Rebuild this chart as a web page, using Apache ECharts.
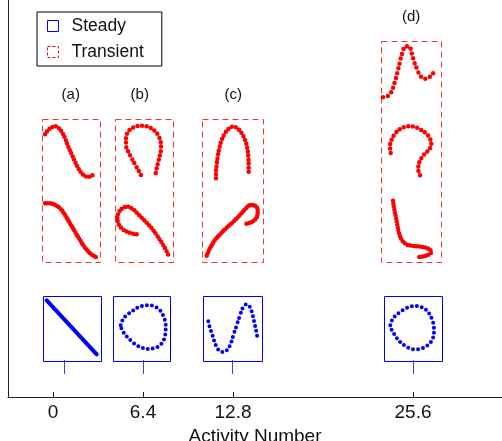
<!DOCTYPE html>
<html lang="en">
<head>
<meta charset="UTF-8">
<title>Steady vs Transient</title>
<style>
    html, body { margin: 0; padding: 0; background: #fff; }
    #echart { width: 502px; height: 441px; }
</style>
</head>
<body>

<div id="echart"></div>

<script src="https://cdn.jsdelivr.net/npm/echarts@6.0.0/dist/echarts.min.js"></script>
<script>
    const FONT = "'Liberation Sans', Arial, Helvetica, sans-serif";

    // x axis ticks (activity number)
    const activityTicks = [0, 6.4, 12.8, 25.6];
    const panelNames = ["(a)", "(b)", "(c)", "(d)"];
    const stemX = [0.78, 6.4, 12.73, 25.6];

    // curve shapes: [right, down] from the box's top-left corner
    const steadyA = [[4, 4.8], [54, 58.8]];
    const steadyB = [[7.4, 29.8], [10, 23.2], [14, 19.2], [19.4, 15.2], [25, 11.8], [30, 10.2], [35, 9.8], [40, 10.5], [45, 13.2], [48.4, 17.2], [50.7, 22.5], [52.4, 28.2], [52.4, 34.8], [51.4, 41.5], [49.4, 46.5], [45.7, 50.5], [41, 52.5], [35, 53.5], [29.4, 52.5], [23.4, 49.8], [18.4, 45.8], [14, 41.5], [10, 36.5], [8, 32.5], [7.4, 29.8]];
    const steadyC = [[5.6, 25.8], [7.3, 32.5], [9.3, 38.2], [11.3, 44.8], [14, 51.5], [17.3, 55.8], [21.3, 56.5], [25, 53.8], [28, 48.2], [30.6, 39.8], [34, 29.8], [37.3, 19.8], [40.6, 11.5], [44, 8.8], [47.3, 11.5], [50, 19.8], [52.3, 29.8], [54, 38.2], [55, 43.2]];
    const steadyD = [[6.6, 29.8], [8.3, 24.8], [11.6, 20.5], [16.6, 16.5], [21.6, 13.2], [26.6, 11.2], [31.6, 10.5], [36.6, 11.2], [41.6, 13.8], [45.6, 18.2], [48.3, 23.8], [50, 29.8], [50.3, 36.5], [49.3, 42.5], [46.6, 47.2], [42.3, 50.8], [37.3, 53.2], [31.6, 53.8], [26.6, 53.2], [21.6, 50.5], [16.6, 46.5], [12.3, 41.5], [9, 35.8], [7, 32.5], [6.6, 29.8]];

    const transA1 = [[3.3, 15.3], [6.6, 11], [10, 8.3], [13.3, 7.3], [16.6, 8.7], [20, 12.7], [23.3, 19.3], [26.6, 27.7], [30, 35.3], [33.3, 42.7], [36.6, 49.3], [40, 54.3], [43.3, 57], [46.6, 58], [50, 56.7], [52.6, 55.3]];
    const transA2 = [[3.3, 84.3], [8.3, 84.3], [13.3, 86], [18.3, 89.3], [23.3, 96], [28.3, 104.3], [33.3, 112.7], [38.3, 121], [43.3, 128.7], [48.3, 134.3], [53.3, 137.7], [55.6, 138.7]];
    const transB1 = [[26, 56], [23.3, 51], [20, 45.3], [16.7, 39.3], [13.3, 32.7], [11, 26], [11, 19.3], [12.3, 14.3], [15.7, 10], [20, 7.7], [25, 6.7], [30, 7], [35, 8.7], [40, 12], [43.3, 16.7], [45.7, 22.7], [46, 29.3], [45, 36], [43.3, 42.7], [41.7, 49.3], [40.3, 56.7]];
    const transB2 = [[21.7, 115.3], [16.7, 114.3], [11.7, 112.7], [6.7, 109.3], [3.3, 104.3], [2.3, 98.7], [4.3, 92.7], [8.3, 88.7], [12.3, 87.7], [16.7, 89.3], [21.7, 93.7], [26.7, 98.7], [31.7, 103.7], [36.7, 109.3], [41.7, 116], [46.7, 123.7], [51, 131], [54.3, 138.7]];
    const transC1 = [[14.3, 59.3], [14.3, 52.7], [15, 46], [16, 37.7], [17.6, 29.3], [20, 21], [23.3, 14.3], [27.6, 9.3], [31.6, 7.7], [35.6, 9.3], [40, 14.3], [43.3, 21], [45.6, 29.3], [46.6, 37.7], [47, 46], [47, 55.3]];
    const transC2 = [[5, 136.7], [8.3, 129.3], [13.3, 121], [18.3, 115.3], [25, 108.7], [31.6, 102.7], [38.3, 96], [44.3, 89.3], [49, 86], [53.3, 86.7], [56, 91], [55.6, 96.7], [51.6, 102], [46.6, 104.3], [43.3, 105]];
    const transD1 = [[2.3, 56.6], [6.6, 55.6], [10, 52.3], [12.3, 47.3], [14.3, 40.7], [16.6, 32.3], [19, 22.3], [21.6, 12.3], [25, 5.6], [28.3, 5.6], [31, 12.3], [33.3, 20.6], [36.6, 29], [40, 35.6], [43.3, 38], [47.6, 37.3], [51.6, 33.3], [55, 30]];
    const transD2 = [[10, 112.3], [9.3, 105.6], [11, 99], [15, 92.3], [20, 88], [25, 86], [30, 85.6], [35, 86.6], [40, 89], [45, 92.3], [49, 97.3], [50.6, 103.3], [48.3, 109], [43.3, 114], [39, 120.6], [37.6, 127.3], [39, 134], [42.6, 136.6]];
    const transD3 = [[12.3, 160], [13.3, 167.3], [15, 175.6], [16.6, 184], [18.3, 192.3], [21, 199], [25, 203.3], [30, 205], [36.6, 205.6], [43.3, 206.6], [48.3, 208.3], [50.6, 211.3], [47.6, 214], [42.3, 215.6], [38.3, 216.3]];

    // layout: boxes in axis units (x = activity, y = height above the axis)
    const PX = 90 / 6.4;
    const steadyBoxes = [
        { x0: -0.732, x1: 3.413, bottom: 37, top: 101.5 },
        { x0: 4.288, x1: 8.37, bottom: 37, top: 101.5 },
        { x0: 10.645, x1: 14.84, bottom: 37, top: 101.5 },
        { x0: 23.516, x1: 27.61, bottom: 37, top: 101.5 }
    ];
    const transientBoxes = [
        { x0: -0.804, x1: 3.342, bottom: 135, top: 278, labelX: 1.26 },
        { x0: 4.409, x1: 8.555, bottom: 135, top: 278, labelX: 6.17 },
        { x0: 10.574, x1: 14.884, bottom: 135, top: 278, labelX: 12.82 },
        { x0: 23.303, x1: 27.57, bottom: 135, top: 356.3, labelX: 25.47 }
    ];

    const RED = "#ff0000";
    const BLUE = "#0000ff";

    function place(curve, box) {
        return curve.map(([dx, dy]) => [box.x0 + dx / PX, box.top - dy]);
    }

    function curve(name, pts, box, color, width, gap) {
        return {
            name: name,
            type: "line",
            data: place(pts, box),
            smooth: 0.4,
            showSymbol: false,
            silent: true,
            z: 4,
            lineStyle: { color: color, width: width, cap: "round", join: "round", type: gap ? [0, gap] : "solid" }
        };
    }

    function boxRenderer(color, dash) {
        return (params, api) => {
            const a = api.coord([api.value(0), api.value(3)]);
            const b = api.coord([api.value(2), api.value(1)]);
            return {
                type: "rect",
                shape: {
                    x: Math.round(a[0]) + 0.5,
                    y: Math.round(a[1]) + 0.5,
                    width: Math.round(b[0] - a[0]),
                    height: Math.round(b[1] - a[1])
                },
                style: { fill: "none", stroke: color, lineWidth: 1, lineDash: dash }
            };
        };
    }

    const myChart = echarts.init(document.getElementById("echart"));

    const series = [
        {
            name: "Steady",
            type: "custom",
            silent: true,
            data: steadyBoxes.map((b) => [b.x0, b.bottom, b.x1, b.top]),
            encode: { x: [0, 2], y: [1, 3] },
            renderItem: boxRenderer(BLUE, null),
            z: 2
        },
        {
            name: "Steady",
            type: "custom",
            silent: true,
            data: stemX.map((x) => [x, 37, 23]),
            encode: { x: 0, y: [1, 2] },
            renderItem: (params, api) => {
                const a = api.coord([api.value(0), api.value(1)]);
                const b = api.coord([api.value(0), api.value(2)]);
                const x = Math.round(a[0]) + 0.5;
                return {
                    type: "line",
                    shape: { x1: x, y1: a[1], x2: x, y2: b[1] },
                    style: { stroke: "#3a3aff", lineWidth: 1 }
                };
            },
            z: 2
        },
        {
            name: "Transient",
            type: "custom",
            silent: true,
            data: transientBoxes.map((b) => [b.x0, b.bottom, b.x1, b.top]),
            encode: { x: [0, 2], y: [1, 3] },
            renderItem: boxRenderer("#ff3030", [6, 4]),
            z: 2
        },
        {
            name: "labels",
            type: "custom",
            silent: true,
            data: transientBoxes.map((b) => [b.labelX, b.top + 24]),
            encode: { x: 0, y: 1 },
            renderItem: (params, api) => {
                const p = api.coord([api.value(0), api.value(1)]);
                return {
                    type: "text",
                    x: p[0],
                    y: p[1],
                    style: {
                        text: panelNames[params.dataIndex],
                        fontSize: 15,
                        fontFamily: FONT,
                        fill: "#111",
                        align: "center",
                        verticalAlign: "middle"
                    }
                };
            }
        },
        curve("Steady", steadyA, steadyBoxes[0], BLUE, 4, 0),
        curve("Steady", steadyB, steadyBoxes[1], BLUE, 4, 5),
        curve("Steady", steadyC, steadyBoxes[2], BLUE, 4, 5),
        curve("Steady", steadyD, steadyBoxes[3], BLUE, 4, 5),
        curve("Transient", transA1, transientBoxes[0], RED, 4.5, 3.5),
        curve("Transient", transA2, transientBoxes[0], RED, 4.5, 2.5),
        curve("Transient", transB1, transientBoxes[1], RED, 4.5, 4.5),
        curve("Transient", transB2, transientBoxes[1], RED, 4.5, 3.5),
        curve("Transient", transC1, transientBoxes[2], RED, 4.5, 4),
        curve("Transient", transC2, transientBoxes[2], RED, 4.5, 2.5),
        curve("Transient", transD1, transientBoxes[3], RED, 4.5, 5),
        curve("Transient", transD2, transientBoxes[3], RED, 4.5, 4.5),
        curve("Transient", transD3, transientBoxes[3], RED, 4.5, 3)
    ];

    const option = {
        animation: false,
        backgroundColor: "#fff",
        grid: { left: 8, right: 0, top: 0, bottom: 44, containLabel: false, outerBoundsMode: "none" },
        legend: {
            orient: "vertical",
            left: 37,
            top: 12,
            backgroundColor: "#fff",
            borderColor: "#000",
            borderWidth: 1,
            borderRadius: 0,
            padding: [5, 18, 5, 10],
            itemGap: 8,
            itemWidth: 11,
            itemHeight: 11,
            selectedMode: false,
            textStyle: { fontSize: 17.5, fontFamily: FONT, color: "#111", padding: [0, 0, 0, 8] },
            data: [
                { name: "Steady", icon: "rect", itemStyle: { color: "rgba(0,0,0,0)", borderColor: BLUE, borderWidth: 1 } },
                { name: "Transient", icon: "rect", itemStyle: { color: "rgba(0,0,0,0)", borderColor: RED, borderWidth: 1, borderType: [3, 2] } }
            ]
        },
        xAxis: {
            type: "value",
            min: -3.2,
            max: 31.93,
            name: "Activity Number",
            nameLocation: "middle",
            nameGap: 28,
            nameTextStyle: { fontSize: 19, fontFamily: FONT, color: "#111" },
            axisLine: { onZero: false, lineStyle: { color: "#222", width: 1 } },
            axisTick: { show: true, inside: true, length: 5, customValues: activityTicks, lineStyle: { color: "#222" } },
            axisLabel: { customValues: activityTicks, margin: 6, fontSize: 19, fontFamily: FONT, color: "#111", formatter: (v) => String(v) },
            splitLine: { show: false }
        },
        yAxis: {
            type: "value",
            min: 0,
            max: 397,
            axisLine: { show: true, onZero: false, lineStyle: { color: "#222", width: 1 } },
            axisTick: { show: false },
            axisLabel: { show: false },
            splitLine: { show: false }
        },
        series: series
    };

    myChart.setOption(option);
</script>

</body>
</html>
